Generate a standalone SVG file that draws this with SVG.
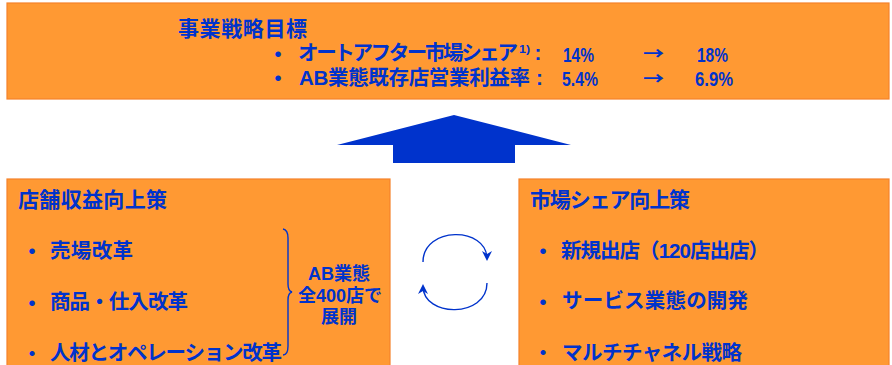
<svg xmlns="http://www.w3.org/2000/svg" width="892" height="365" viewBox="0 0 892 365">
<style>
.box{fill:#FF9933;stroke:#F5822A;stroke-width:1.2}
.t{font-family:"Liberation Sans","Noto Sans CJK JP",sans-serif;font-weight:bold;fill:#0033CC}
.j{font-family:"Noto Sans CJK JP",sans-serif}
.f21{font-size:21px}
.f20{font-size:20.5px}
.fn{font-size:21px}
.fa{font-size:17px}
.fd{font-size:22px;text-anchor:middle}
.fe{font-size:20px;text-anchor:middle}
.f18{font-size:18px}
.f11{font-size:11px}
.mid{text-anchor:middle}
.ln{fill:none;stroke:#0033CC;stroke-width:1.4}
</style>
<defs>
<marker id="ah" viewBox="0 0 10 10" markerWidth="10" markerHeight="10" refX="8" refY="5" orient="auto" markerUnits="userSpaceOnUse">
<path d="M0,0 L10,5 L0,10 L3,5 z" fill="#0033CC"/>
</marker>
</defs>

<g id="goal">
<rect class="box" x="7" y="3" width="882" height="96"/>
<text class="t f21" x="178" y="35.5" textLength="129" lengthAdjust="spacing">事業戦略目標</text>
<text class="t fd" x="278" y="61.5">・</text>
<text class="t f20" x="298" y="60" textLength="220" lengthAdjust="spacing">オートアフター市場シェア</text>
<text class="t f11" x="519" y="53" textLength="11" lengthAdjust="spacingAndGlyphs">1)</text>
<text class="t f20" x="534.5" y="60">:</text>
<text class="t fn" x="563" y="61.5" textLength="31" lengthAdjust="spacingAndGlyphs">14%</text>
<text class="t j fa" x="643" y="60" textLength="21" lengthAdjust="spacingAndGlyphs">→</text>
<text class="t fn" x="697" y="61.5" textLength="31" lengthAdjust="spacingAndGlyphs">18%</text>
<text class="t fd" x="278" y="86">・</text>
<text class="t f20" x="299" y="84.5" textLength="231" lengthAdjust="spacing">AB業態既存店営業利益率</text>
<text class="t f20" x="536" y="84.5">:</text>
<text class="t fn" x="562" y="85.5" textLength="36" lengthAdjust="spacingAndGlyphs">5.4%</text>
<text class="t j fa" x="643" y="85" textLength="21" lengthAdjust="spacingAndGlyphs">→</text>
<text class="t fn" x="695" y="85.5" textLength="38" lengthAdjust="spacingAndGlyphs">6.9%</text>
</g>

<g id="upArrow">
<polygon points="454,115 571,145 515,145 515,163 393,163 393,145 337,145" fill="#0033CC"/>
</g>

<g id="storeRevenue">
<rect class="box" x="7" y="179" width="383" height="192"/>
<text class="t f21" x="18" y="206.5" textLength="149" lengthAdjust="spacing">店舗収益向上策</text>
<text class="t fd" x="32" y="258.5">・</text>
<text class="t f20" x="50" y="257.5" textLength="83" lengthAdjust="spacing">売場改革</text>
<text class="t fd" x="32" y="310.5">・</text>
<text class="t f20" x="50" y="308.5" textLength="138" lengthAdjust="spacing">商品・仕入改革</text>
<text class="t fe" x="32" y="360.5">・</text>
<text class="t f20" x="50" y="360" textLength="232" lengthAdjust="spacing">人材とオペレーション改革</text>
<path class="ln" d="M283,229 Q288,230 288,238 L288,284 Q288,291 292,292 Q288,293 288,300 L288,346 Q288,355 283,355"/>
<text class="t f18 mid" x="339" y="279.5">AB業態</text>
<text class="t f18 mid" x="340" y="301.5">全400店で</text>
<text class="t f18 mid" x="339" y="322.5">展開</text>
</g>

<g id="marketShare">
<rect class="box" x="519" y="179" width="370" height="192"/>
<text class="t f21" x="530" y="206.5" textLength="160" lengthAdjust="spacing">市場シェア向上策</text>
<text class="t fd" x="543" y="258.5">・</text>
<text class="t f20" x="561" y="257.5" textLength="208" lengthAdjust="spacing">新規出店（120店出店）</text>
<text class="t fd" x="543" y="310">・</text>
<text class="t f20" x="562" y="307.5" textLength="186" lengthAdjust="spacing">サービス業態の開発</text>
<text class="t fe" x="543" y="360">・</text>
<text class="t f20" x="562" y="359.5" textLength="180" lengthAdjust="spacing">マルチチャネル戦略</text>
</g>

<g id="connectors">
<path class="ln" d="M423,262 C423,226 487,226 487,259" marker-end="url(#ah)"/>
<path class="ln" d="M487,283 C487,318 423,318 423,286" marker-end="url(#ah)"/>
</g>
</svg>
